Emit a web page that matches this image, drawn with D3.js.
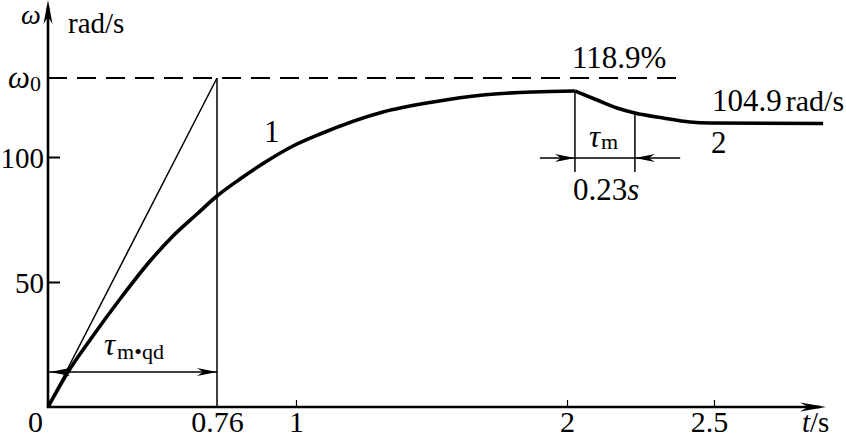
<!DOCTYPE html>
<html>
<head>
<meta charset="utf-8">
<script src="https://cdn.jsdelivr.net/npm/d3@7"></script>
<style>
body { margin: 0; background: #fff; }
svg { display: block; }
text { font-family: "Liberation Serif", "Times New Roman", serif; fill: #000; }
</style>
</head>
<body>
<div id="chart"></div>
<script>
// ---- data (t in s, omega in rad/s; figure is schematic)
const OMEGA0 = 131.6;
const T_QD = 0.76;
const tStart = [0, 0.09, 0.189, 0.324, 0.459, 0.562, 0.67, 0.76, 0.83, 0.912, 0.991, 1.089, 1.321, 1.506, 1.69, 1.875, 2.027];
const wStart = [0, 14, 26.8, 43.2, 58.4, 68.4, 77.2, 84.4, 91.2, 98.4, 104.4, 109.2, 118, 122, 124.8, 126, 126.4];
const tLoad = [2.027, 2.102, 2.17, 2.231, 2.327, 2.418, 2.486, 2.87];
const wLoad = [126.4, 122.8, 119.6, 117.6, 115.6, 114, 113.6, 113.4];
const xTicks = [1, 2, 2.5];
const xTickLabels = ["0", "0.76", "1", "2", "2.5"];
const xTickPos = [0, 0.76, 1, 2, 2.5];
const yTicks = [50, 100];
const tauM = [2.027, 2.231];   // load time constant marks (0.23 s)

const width = 846, height = 438;

const svg = d3.select("#chart")
    .append("svg")
    .attr("width", width)
    .attr("height", height);

// x axis in the figure is not to scale, so piecewise
const xScale = d3.scaleLinear()
    .domain([0, 0.76, 1, 2, 2.5, 2.9])
    .range([48, 217, 296, 567, 714, 832]);

const yScale = d3.scaleLinear()
    .domain([0, 162.8])
    .range([407, 0]);

const line = d3.line()
    .x(function(d){ return xScale(d[0]); })
    .y(function(d){ return yScale(d[1]); })
    .curve(d3.curveMonotoneX);

function arrowHead(x, y, angle, len, hw) {
    svg.append("path")
        .attr("d", "M0,0 L" + (-len) + "," + (-hw) + " L" + (-len * 0.7) + ",0 L" + (-len) + "," + hw + " Z")
        .attr("transform", "translate(" + x + "," + y + ") rotate(" + angle + ")")
        .attr("fill", "#000");
}

// dashed omega0 line
svg.append("line")
    .attr("x1", xScale(0)).attr("x2", xScale(2.378))
    .attr("y1", yScale(OMEGA0)).attr("y2", yScale(OMEGA0))
    .attr("stroke", "#000").attr("stroke-width", 1.8)
    .attr("stroke-dasharray", "19,10");

// tangent line and t = 0.76 vertical
svg.append("line")
    .attr("x1", xScale(0)).attr("y1", yScale(0))
    .attr("x2", xScale(T_QD)).attr("y2", yScale(OMEGA0))
    .attr("stroke", "#000").attr("stroke-width", 1.5);
svg.append("line")
    .attr("x1", xScale(T_QD)).attr("y1", yScale(OMEGA0))
    .attr("x2", xScale(T_QD)).attr("y2", yScale(0))
    .attr("stroke", "#000").attr("stroke-width", 1.5);

// curves
svg.append("path")
    .attr("d", line(d3.zip(tStart, wStart)))
    .attr("fill", "none").attr("stroke", "#000").attr("stroke-width", 3.6);
svg.append("path")
    .attr("d", line(d3.zip(tLoad, wLoad)))
    .attr("fill", "none").attr("stroke", "#000").attr("stroke-width", 3.6);

// axes
const xAxisG = svg.append("g")
    .attr("transform", "translate(0," + yScale(0) + ")")
    .call(d3.axisBottom(xScale).tickValues(xTicks).tickSizeInner(-7).tickSizeOuter(0).tickFormat(""));
xAxisG.select(".domain").remove();
xAxisG.selectAll(".tick line").attr("stroke-width", 1.2);

const xLabG = svg.append("g")
    .attr("transform", "translate(0," + yScale(0) + ")")
    .call(d3.axisBottom(xScale).tickValues(xTickPos).tickSize(0).tickPadding(0)
        .tickFormat(function(d, i){ return xTickLabels[i]; }));
xLabG.select(".domain").remove();
xLabG.selectAll("text")
    .attr("font-size", 30).attr("font-family", null)
    .attr("dy", null).attr("y", 25)
    .attr("dx", function(d){ return d === 0 ? -13 : (d === 2.5 ? -5 : 0); });

const yAxisG = svg.append("g")
    .attr("transform", "translate(" + xScale(0) + ",0)")
    .call(d3.axisLeft(yScale).tickValues(yTicks).tickSizeInner(-12).tickSizeOuter(0).tickPadding(6));
yAxisG.select(".domain").remove();
yAxisG.selectAll(".tick line").attr("stroke-width", 2);
yAxisG.selectAll("text")
    .attr("font-size", 29).attr("font-family", null)
    .attr("x", -4).attr("dy", "0.36em");

svg.append("line")
    .attr("x1", xScale(0) - 1).attr("x2", xScale(2.86))
    .attr("y1", yScale(0)).attr("y2", yScale(0))
    .attr("stroke", "#000").attr("stroke-width", 2.6);
arrowHead(xScale(2.88), yScale(0), 0, 26, 4.5);
svg.append("line")
    .attr("x1", xScale(0)).attr("x2", xScale(0))
    .attr("y1", yScale(0) + 1).attr("y2", yScale(160))
    .attr("stroke", "#000").attr("stroke-width", 2.6);
arrowHead(xScale(0), yScale(162.8), -90, 24, 4.5);

// axis titles
svg.append("text").attr("x", 21).attr("y", 24)
    .attr("font-size", 28).attr("font-style", "italic").text("ω");
svg.append("text").attr("x", 68).attr("y", 33)
    .attr("font-size", 29).text("rad/s");
const w0 = svg.append("text").attr("x", 8).attr("y", yScale(OMEGA0) + 10)
    .attr("font-size", 31);
w0.append("tspan").attr("font-style", "italic").text("ω");
w0.append("tspan").attr("font-size", 22).attr("dy", 3).text("0");
const tl = svg.append("text").attr("x", 802).attr("y", 432).attr("font-size", 29);
tl.append("tspan").attr("font-style", "italic").text("t");
tl.append("tspan").text("/s");

// tau m.qd dimension
const yQd = yScale(14);
svg.append("line")
    .attr("x1", xScale(0)).attr("x2", xScale(T_QD))
    .attr("y1", yQd).attr("y2", yQd)
    .attr("stroke", "#000").attr("stroke-width", 1.3);
arrowHead(xScale(0) + 2, yQd, 180, 20, 4);
arrowHead(xScale(T_QD), yQd, 0, 20, 4);
const tq = svg.append("text").attr("x", 104).attr("y", 355).attr("font-size", 31);
tq.append("tspan").attr("font-style", "italic").text("τ");
tq.append("tspan").attr("font-size", 22).attr("dy", 4).attr("dx", 2).text("m•qd");

// tau m dimension
const yTm = yScale(99.6);
tauM.forEach(function(t, i){
    svg.append("line")
        .attr("x1", xScale(t)).attr("x2", xScale(t))
        .attr("y1", yScale(i === 0 ? wLoad[0] : wLoad[3])).attr("y2", yScale(94))
        .attr("stroke", "#000").attr("stroke-width", 1.5);
});
svg.append("line")
    .attr("x1", xScale(1.9)).attr("x2", xScale(2.385))
    .attr("y1", yTm).attr("y2", yTm)
    .attr("stroke", "#000").attr("stroke-width", 1.3);
arrowHead(xScale(tauM[0]), yTm, 0, 20, 4);
arrowHead(xScale(tauM[1]), yTm, 180, 20, 4);
const tm = svg.append("text").attr("x", 589).attr("y", 147).attr("font-size", 31);
tm.append("tspan").attr("font-style", "italic").text("τ");
tm.append("tspan").attr("font-size", 22).attr("dy", 2).attr("dx", 1).text("m");
const t23 = svg.append("text").attr("x", 573).attr("y", 200).attr("font-size", 31);
t23.append("tspan").text("0.23");
t23.append("tspan").attr("font-style", "italic").text("s");

// curve labels
svg.append("text").attr("x", 264).attr("y", 142).attr("font-size", 31).text("1");
svg.append("text").attr("x", 711).attr("y", 153).attr("font-size", 31).text("2");
svg.append("text").attr("x", 572).attr("y", 68).attr("font-size", 31).text("118.9%");
const t104 = svg.append("text").attr("x", 712).attr("y", 111).attr("font-size", 31);
t104.append("tspan").text("104.9");
t104.append("tspan").attr("dx", 4).attr("font-size", 30).text("rad/s");
</script>
</body>
</html>
